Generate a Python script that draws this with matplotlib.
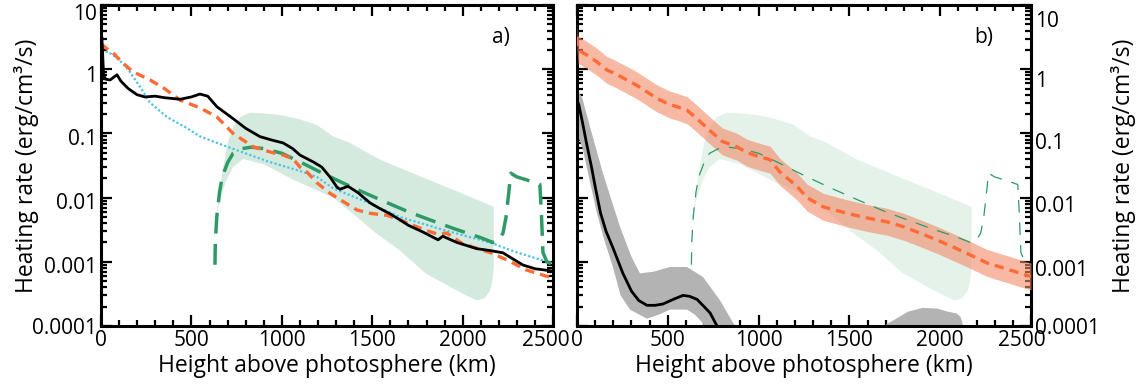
import numpy as np
import matplotlib
matplotlib.use("Agg")
import matplotlib.pyplot as plt
import matplotlib.transforms as mtransforms
from matplotlib.ticker import FixedLocator, FixedFormatter, LogLocator, NullFormatter, MultipleLocator

plt.rcParams['font.family'] = ['Open Sans', 'DejaVu Sans']

# ---------------- data ----------------
# panel a: black solid
black_a_x = [0, 4, 8, 14, 25, 50, 70, 88, 110, 150, 199, 243, 300, 350, 437, 500, 547, 590, 641, 730,
             800, 879, 950, 1007, 1060, 1100, 1173, 1220, 1266, 1305, 1322, 1366, 1420, 1487, 1540,
             1598, 1653, 1700, 1781, 1864, 1890, 1968, 2079, 2150, 2223, 2280, 2334, 2400, 2495]
black_a_y = [1.5, 3.2, 2.0, 0.8, 0.7, 0.68, 0.75, 0.82, 0.65, 0.5, 0.40, 0.37, 0.38, 0.36, 0.34, 0.37,
             0.41, 0.38, 0.26, 0.17, 0.12, 0.089, 0.078, 0.071, 0.058, 0.046, 0.036, 0.03, 0.021,
             0.0145, 0.0135, 0.015, 0.012, 0.0083, 0.0068, 0.0056, 0.0045, 0.0037, 0.0029, 0.0022,
             0.0025, 0.0020, 0.0016, 0.0015, 0.00138, 0.0011, 0.00089, 0.00078, 0.00072]

# panel a: orange dashed
orange_a_x = [0, 30, 66, 120, 177, 271, 350, 437, 547, 641, 730, 841, 950, 1007, 1062, 1100, 1139,
              1194, 1266, 1322, 1416, 1487, 1581, 1653, 1781, 1860, 1912, 2001, 2150, 2245, 2350, 2495]
orange_a_y = [2.5, 2.1, 1.8, 1.25, 0.91, 0.68, 0.5, 0.33, 0.25, 0.18, 0.10, 0.062, 0.05, 0.046, 0.04,
              0.03, 0.025, 0.017, 0.0117, 0.0093, 0.0064, 0.0057, 0.0053, 0.0045, 0.0032, 0.0027,
              0.0028, 0.0019, 0.0014, 0.00107, 0.00075, 0.00056]

# panel a: cyan dotted
cyan_x = [0, 40, 88, 130, 160, 216, 271, 365, 476, 547, 641, 918, 1100, 1194, 1283, 1470, 1653,
          1900, 2150, 2300, 2495]
cyan_y = [1.9, 1.85, 1.5, 1.15, 0.9, 0.53, 0.30, 0.18, 0.12, 0.09, 0.071, 0.037, 0.026, 0.021,
          0.014, 0.0085, 0.005, 0.0031, 0.002, 0.0014, 0.00095]

# green dashed (both panels)
green_x = [630, 632, 640, 655, 670, 700, 730, 780, 830, 900, 1000, 1100, 1200, 1300, 1400, 1543,
           1700, 1819, 1950, 2096, 2167, 2200, 2223, 2240, 2255, 2266, 2300, 2350, 2427, 2435, 2444,
           2466, 2500]
green_y = [0.0009, 0.002, 0.005, 0.012, 0.021, 0.035, 0.049, 0.058, 0.061, 0.058, 0.049, 0.036,
           0.026, 0.019, 0.014, 0.0093, 0.006, 0.0045, 0.0033, 0.0024, 0.002, 0.0022, 0.0028, 0.005,
           0.012, 0.024, 0.021, 0.019, 0.016, 0.006, 0.0014, 0.001, 0.0009]

# green shaded range (both panels): upper edge and lower edge
gfill_up_x = [630, 640, 660, 676, 700, 731, 770, 824, 900, 1007, 1100, 1194, 1283, 1377, 1543,
              1653, 1800, 2000, 2167, 2172]
gfill_up_y = [0.0035, 0.006, 0.015, 0.03, 0.07, 0.126, 0.18, 0.21, 0.205, 0.19, 0.165, 0.135,
              0.09, 0.071, 0.039, 0.029, 0.0195, 0.0115, 0.0073, 0.0072]
gfill_lo_x = [630, 640, 658, 690, 731, 786, 900, 1063, 1283, 1400, 1520, 1653, 1795, 1950, 2040,
              2079, 2120, 2150, 2165, 2172]
gfill_lo_y = [0.0035, 0.0055, 0.0093, 0.018, 0.03, 0.04, 0.033, 0.019, 0.010, 0.0054, 0.0028,
              0.0015, 0.00066, 0.00038, 0.00028, 0.00025, 0.00027, 0.00035, 0.0005, 0.0008]

# panel b: orange dashed with range
orange_b_x = [0, 6, 55, 110, 165, 200, 275, 330, 441, 512, 551, 606, 660, 733, 800, 881, 936, 1008,
              1063, 1118, 1211, 1267, 1355, 1487, 1600, 1707, 1800, 1889, 1980, 2071, 2160, 2258,
              2380, 2500]
orange_b_y = [3.2, 2.0, 1.66, 1.3, 0.97, 0.88, 0.68, 0.56, 0.35, 0.28, 0.26, 0.23, 0.17, 0.11,
              0.075, 0.062, 0.05, 0.043, 0.039, 0.025, 0.015, 0.010, 0.0072, 0.0057, 0.0048, 0.0042,
              0.0035, 0.0028, 0.0022, 0.0017, 0.0013, 0.00096, 0.00075, 0.00059]
orange_b_band_dex = 0.21

# panel b: black solid with grey range
black_b_x = [0, 10, 30, 55, 80, 100, 130, 160, 200, 253, 300, 340, 385, 430, 473, 530, 584, 620,
             661, 700, 733, 771, 800]
black_b_y = [0.33, 0.28, 0.15, 0.065, 0.03, 0.015, 0.0057, 0.003, 0.0016, 0.00066, 0.00035,
             0.00025, 0.00021, 0.00021, 0.00022, 0.00026, 0.0003, 0.00029, 0.00026, 0.0002,
             0.00016, 0.0001, 0.00007]
grey_up_x = [0, 30, 72, 143, 237, 300, 347, 420, 512, 606, 694, 788, 870, 900]
grey_up_y = [0.5, 0.35, 0.126, 0.024, 0.0035, 0.0012, 0.00066, 0.0007, 0.00083, 0.00083, 0.00058,
             0.00025, 0.0001, 0.00005]
grey_lo_x = [0, 30, 60, 110, 150, 198, 240, 292, 385, 450, 512, 606, 650, 694, 720]
grey_lo_y = [0.1, 0.06, 0.025, 0.0057, 0.0022, 0.00083, 0.0003, 0.00018, 0.00013, 0.00015,
             0.00018, 0.00018, 0.00015, 0.00011, 0.00005]
grey2_x = [1650, 1681, 1750, 1820, 1901, 1980, 2040, 2087, 2110, 2125, 2130]
grey2_y = [0.00008, 0.0001, 0.00013, 0.00017, 0.000195, 0.00019, 0.00017, 0.00016, 0.00014,
           0.0001, 0.00008]

ytick_vals = [1e-4, 1e-3, 1e-2, 1e-1, 1, 10]
ytick_labels = ['0.0001', '0.001', '0.01', '0.1', '1', '10']
xtick_vals = [0, 500, 1000, 1500, 2000, 2500]

# ---------------- figure ----------------
fig = plt.figure(figsize=(11.38, 3.87), dpi=100)
ax1 = fig.add_axes([0.0888, 0.1576, 0.3972, 0.8295])
ax2 = fig.add_axes([0.5070, 0.1576, 0.3990, 0.8295])

GREEN = '#2e9a66'
ORANGE = '#ff6a35'
TFS = 15
LFS = 16.5


def green_poly():
    px = list(gfill_up_x) + list(gfill_lo_x[::-1])
    py = list(gfill_up_y) + list(gfill_lo_y[::-1])
    return px, py


# panel a
px, py = green_poly()
ax1.fill(px, py, color='#d5eadf', lw=0, zorder=1)
ax1.plot(cyan_x, cyan_y, color='#4cc3e6', lw=1.6, ls=(0, (1, 1)), zorder=3)
ax1.plot(green_x, green_y, color=GREEN, lw=2.5, ls=(0, (6, 3)), zorder=4)
ax1.plot(orange_a_x, orange_a_y, color=ORANGE, lw=2.4, ls=(0, (2.8, 1.8)), zorder=5)
ax1.plot(black_a_x, black_a_y, color='black', lw=2.0, zorder=6)
ax1.text(0.905, 0.9, 'a)', transform=ax1.transAxes, ha='right', va='center', fontsize=TFS)

# panel b
ax2.fill(px, py, color='#e4f2ea', lw=0, zorder=1)
ax2.plot(green_x, green_y, color=GREEN, lw=0.9, ls=(0, (10, 8)), zorder=4)
ob = np.array(orange_b_y)
ax2.fill_between(orange_b_x, ob * 10 ** (-orange_b_band_dex), ob * 10 ** orange_b_band_dex,
                 color='#f38a68', alpha=0.6, lw=0, zorder=3)
ax2.plot(orange_b_x, orange_b_y, color=ORANGE, lw=2.4, ls=(0, (2.8, 1.8)), zorder=5)
gx = list(grey_up_x) + list(grey_lo_x[::-1])
gy = list(grey_up_y) + list(grey_lo_y[::-1])
ax2.fill(gx, gy, color='#b3b3b3', lw=0, zorder=2)
ax2.fill_between(grey2_x, 1e-5, grey2_y, color='#b3b3b3', lw=0, zorder=2)
ax2.plot(black_b_x, black_b_y, color='black', lw=2.0, zorder=6)
ax2.text(0.916, 0.9, 'b)', transform=ax2.transAxes, ha='right', va='center', fontsize=TFS)

for ax in (ax1, ax2):
    ax.set_yscale('log')
    ax.set_xlim(0, 2500)
    ax.set_ylim(1e-4, 10)
    ax.yaxis.set_major_locator(FixedLocator(ytick_vals))
    ax.yaxis.set_major_formatter(FixedFormatter(ytick_labels))
    ax.yaxis.set_minor_locator(LogLocator(base=10, subs=np.arange(2, 10)))
    ax.yaxis.set_minor_formatter(NullFormatter())
    ax.xaxis.set_major_locator(FixedLocator(xtick_vals))
    ax.xaxis.set_minor_locator(MultipleLocator(100))
    ax.tick_params(which='both', direction='in', top=True, right=True, bottom=True, left=True,
                   labelsize=TFS, width=1.6, color='black')
    ax.tick_params(which='major', length=8)
    ax.tick_params(which='minor', length=4)
    ax.tick_params(axis='x', pad=3)
    ax.tick_params(axis='y', pad=3)
    for s in ax.spines.values():
        s.set_linewidth(2.2)
    ax.set_xlabel('Height above photosphere (km)', fontsize=LFS, labelpad=2)

ax1.set_ylabel('Heating rate (erg/cm³/s)', fontsize=LFS, labelpad=-5)
ax2.tick_params(axis='y', labelleft=False, labelright=True)
ax2.yaxis.set_label_position('right')
ax2.set_ylabel('Heating rate (erg/cm³/s)', fontsize=LFS, labelpad=8)

# small label offsets, as in the original
fig.canvas.draw()
for ax, dx in ((ax1, -7), (ax2, -9)):
    lbl = ax.get_xticklabels()[-1]
    lbl.set_transform(lbl.get_transform() + mtransforms.ScaledTranslation(dx / 100, 0, fig.dpi_scale_trans))
ydown = [0, 3, 3, 4, 5, 7]
for ax in (ax1, ax2):
    labels = ax.yaxis.get_majorticklabels()
    for lbl, d in zip(labels, ydown):
        lbl.set_transform(lbl.get_transform() + mtransforms.ScaledTranslation(0, -d / 100, fig.dpi_scale_trans))
    for t in ax.yaxis.get_major_ticks():
        t.label2.set_transform(t.label2.get_transform())
    ticks = ax.yaxis.get_major_ticks()
    for t, d in zip(ticks, ydown):
        t.label2.set_transform(t.label2.get_transform() + mtransforms.ScaledTranslation(0, -d / 100, fig.dpi_scale_trans))

fig.savefig('out.png', dpi=100)
